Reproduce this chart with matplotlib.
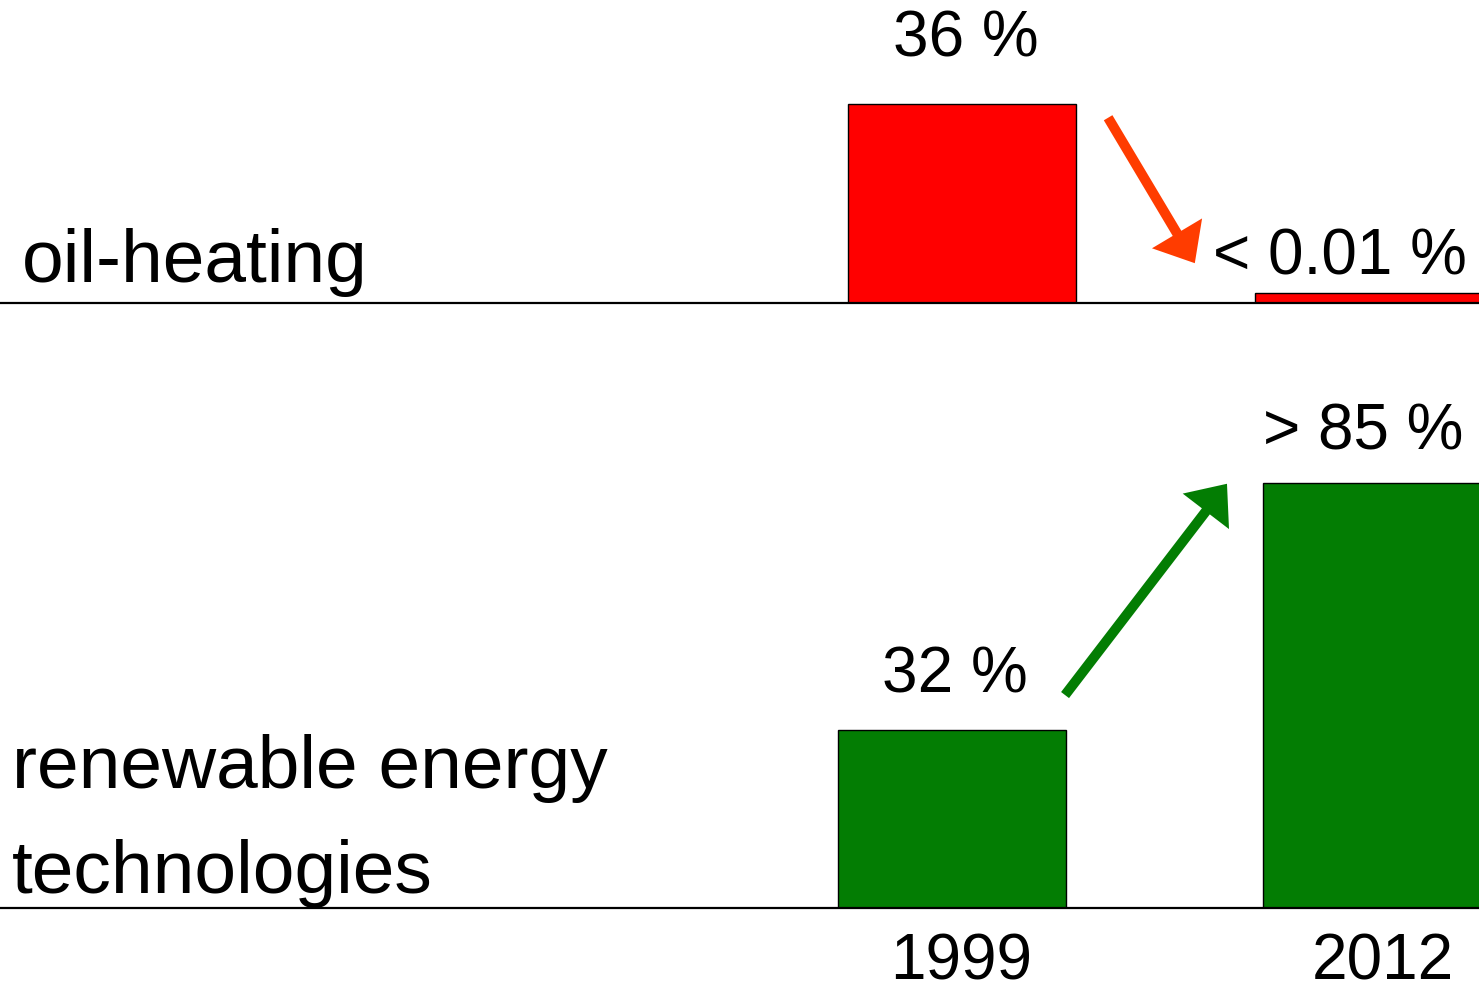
import matplotlib
matplotlib.use('Agg')
import matplotlib.pyplot as plt

plt.rcParams['font.family'] = ['Liberation Sans', 'DejaVu Sans']

# data
years = ['1999', '2012']
oil_heights = [36.0, 1.8]          # drawn bar heights (percent)
oil_labels = ['36 %', '< 0.01 %']
ren_heights = [32.0, 76.4]
ren_labels = ['32 %', '> 85 %']

red = '#ff0000'
green = '#037d03'
W, H = 1479, 986

fig = plt.figure(figsize=(W / 100, H / 100), dpi=100)

# top panel: oil-heating
ax1 = fig.add_axes([0, (H - 303) / H, 1, 303 / H])
ax1.bar([0, 1], oil_heights, width=0.56, color=red, edgecolor='black', lw=1)
ax1.set_xlim(-962 / 407, 517 / 407)
ax1.set_ylim(0, 303 / 5.53)

ax1.text(0.01, 44.5, oil_labels[0], ha='center', va='baseline', fontsize=46)
ax1.text(0.617, 5.1, oil_labels[1], ha='left', va='baseline', fontsize=46)
ax1.text(0.015, 3.8, 'oil-heating', transform=ax1.get_yaxis_transform(),
         ha='left', va='baseline', fontsize=54)
ax1.annotate('', xy=(0.572, 7.2), xytext=(0.359, 33.5),
             arrowprops=dict(arrowstyle='simple,head_length=2.5,head_width=4.2,tail_width=0.72',
                             color='#ff3c00', lw=0, shrinkA=0, shrinkB=0, mutation_scale=10))

# bottom panel: renewable energy technologies
ax2 = fig.add_axes([0, 78 / H, 1, 578 / H])
ax2.bar([0, 1], ren_heights, width=0.536, color=green, edgecolor='black', lw=1)
ax2.set_xlim(-952 / 425, 527 / 425)
ax2.set_ylim(0, 578 / 5.56)

ax2.text(0.007, 38.8, ren_labels[0], ha='center', va='baseline', fontsize=46)
ax2.text(0.732, 82.4, ren_labels[1], ha='left', va='baseline', fontsize=46)
ax2.text(0.008, 21.6, 'renewable energy', transform=ax2.get_yaxis_transform(),
         ha='left', va='baseline', fontsize=54)
ax2.text(0.008, 2.7, 'technologies', transform=ax2.get_yaxis_transform(),
         ha='left', va='baseline', fontsize=54)
ax2.annotate('', xy=(0.647, 76.3), xytext=(0.266, 38.3),
             arrowprops=dict(arrowstyle='simple,head_length=2.5,head_width=4.2,tail_width=0.72',
                             color=green, lw=0, shrinkA=0, shrinkB=0, mutation_scale=10))

ax2.set_xticks([0.021, 1.014])
ax2.set_xticklabels(years, fontsize=46)
ax2.tick_params(axis='x', length=0, pad=18)

for ax in (ax1, ax2):
    ax.patch.set_alpha(0)
    for s in ('top', 'right', 'left'):
        ax.spines[s].set_visible(False)
    ax.spines['bottom'].set_linewidth(1.6)
    ax.set_yticks([])
ax1.set_xticks([])

fig.savefig('out.png', dpi=100)
